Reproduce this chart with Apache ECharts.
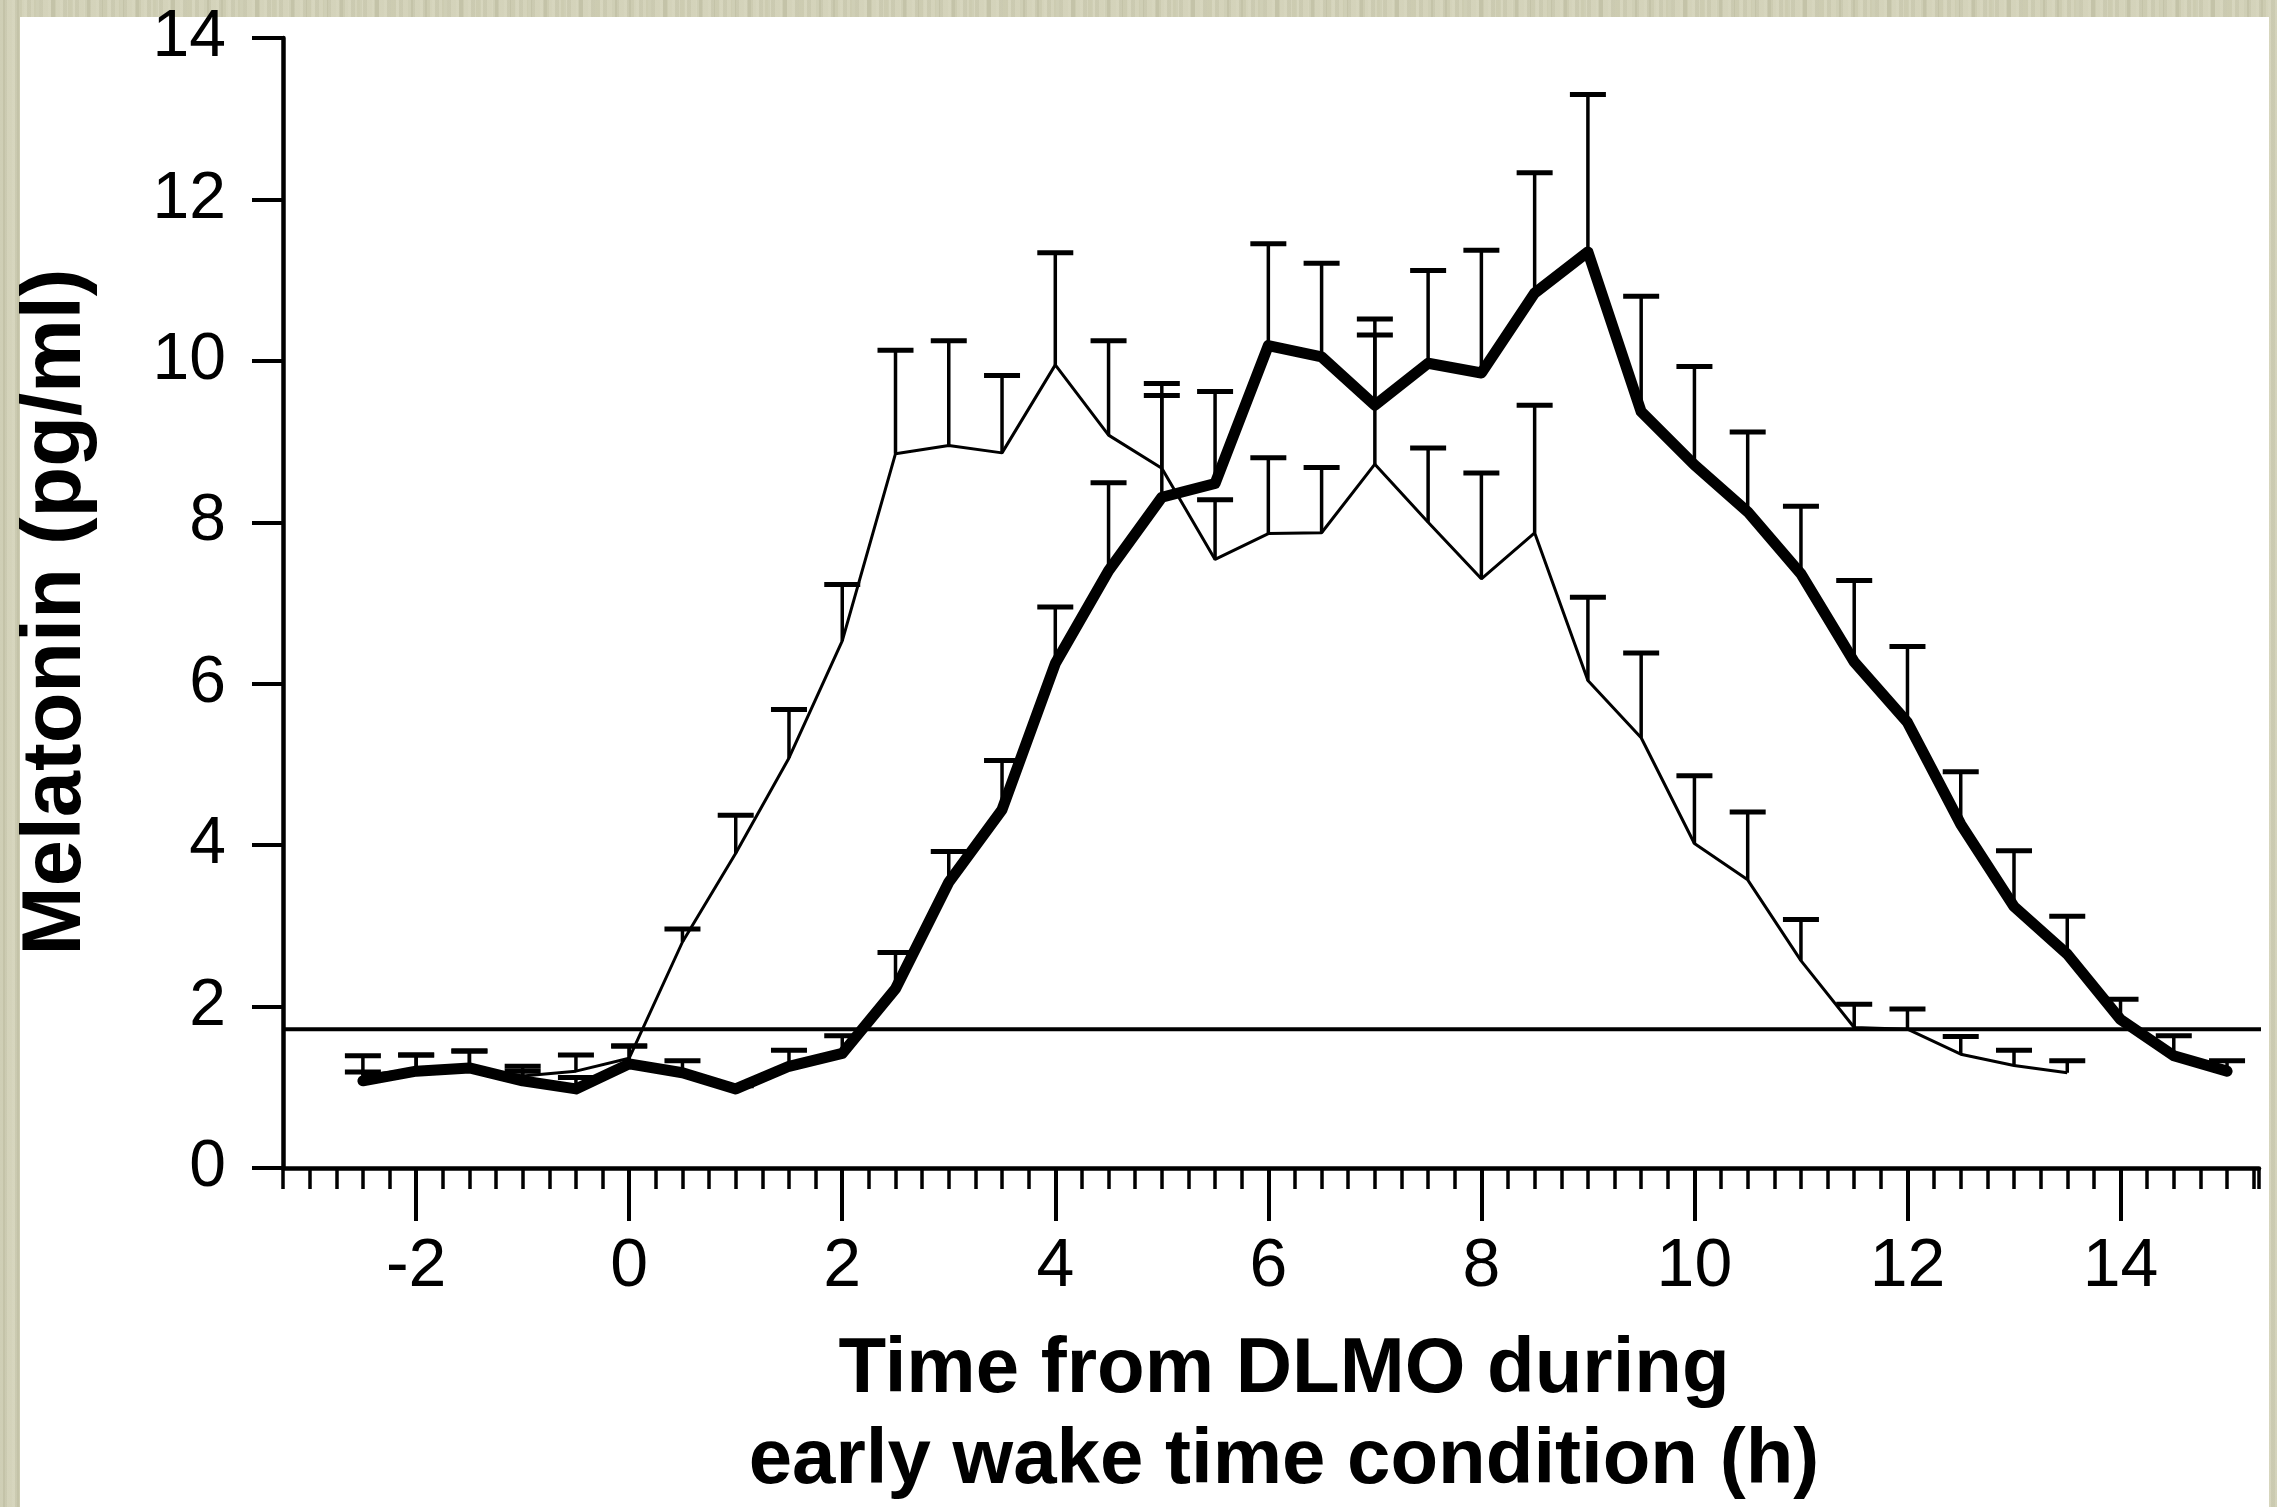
<!DOCTYPE html>
<html>
<head>
<meta charset="utf-8">
<script src="https://cdn.jsdelivr.net/npm/echarts@6/dist/echarts.min.js"></script>
<style>
  html, body { margin: 0; padding: 0; }
  body {
    width: 2277px; height: 1507px; overflow: hidden; position: relative;
    background-color: #cfceb3;
    background-image:
      repeating-linear-gradient(90deg, rgba(255,255,255,0.10) 0px, rgba(255,255,255,0.10) 3px, rgba(0,0,0,0.03) 3px, rgba(0,0,0,0.03) 7px, rgba(255,255,255,0.05) 7px, rgba(255,255,255,0.05) 12px),
      repeating-linear-gradient(90deg, rgba(120,120,80,0.06) 0px, rgba(120,120,80,0.06) 5px, rgba(255,255,240,0.06) 5px, rgba(255,255,240,0.06) 17px);
  }
  #panel { position: absolute; left: 20px; top: 17px; width: 2249px; height: 1490px; background: #ffffff; }
  #chart { position: absolute; left: 0; top: 0; width: 2277px; height: 1507px; }
</style>
</head>
<body>
<div id="panel"></div>
<div id="chart"></div>
<script>
// ---- data ----
const thinTimes = [-2.5,-2,-1.5,-1,-0.5,0,0.5,1,1.5,2,2.5,3,3.5,4,4.5,5,5.5,6,6.5,7,7.5,8,8.5,9,9.5,10,10.5,11,11.5,12,12.5,13,13.5];
const thinMean  = [1.15,1.22,1.25,1.14,1.20,1.36,2.80,3.90,5.08,6.53,8.85,8.95,8.86,9.95,9.08,8.67,7.54,7.86,7.87,8.72,8.00,7.30,7.87,6.04,5.33,4.02,3.57,2.57,1.74,1.72,1.41,1.27,1.18];
const thinUpper = [1.39,1.40,1.45,1.26,1.40,1.51,2.96,4.37,5.68,7.23,10.13,10.25,9.82,11.34,10.25,9.72,8.28,8.80,8.68,10.52,8.92,8.61,9.45,7.07,6.38,4.86,4.41,3.08,2.03,1.97,1.63,1.46,1.33];

const thickTimes = [-2.5,-2,-1.5,-1,-0.5,0,0.5,1,1.5,2,2.5,3,3.5,4,4.5,5,5.5,6,6.5,7,7.5,8,8.5,9,9.5,10,10.5,11,11.5,12,12.5,13,13.5,14,14.5,15];
const thickMean  = [1.08,1.20,1.24,1.08,0.98,1.29,1.18,0.98,1.26,1.42,2.22,3.54,4.44,6.25,7.40,8.31,8.48,10.19,10.05,9.45,9.97,9.85,10.84,11.35,9.37,8.71,8.13,7.36,6.27,5.52,4.26,3.24,2.65,1.84,1.39,1.20];
const thickUpper = [1.19,1.40,1.45,1.20,1.12,1.51,1.33,1.02,1.46,1.64,2.67,3.92,5.05,6.95,8.49,9.57,9.62,11.45,11.21,10.32,11.12,11.37,12.33,13.30,10.80,9.93,9.12,8.20,7.28,6.46,4.91,3.93,3.12,2.09,1.64,1.33];

const thresholdValue = 1.72;
const thresholdSpan = [-3.25, 15.35];

const xMajorTicks = [-2, 0, 2, 4, 6, 8, 10, 12, 14];
const xRange = [-3.25, 15.3];
const xMinorStep = 0.25;
const yRange = [0, 14];
const yStep = 2;

const xTitleLines = ['Time from DLMO during', 'early wake time condition (h)'];
const yTitle = 'Melatonin (pg/ml)';

// ---- chart ----
const FONT = "'Liberation Sans', Arial, Helvetica, sans-serif";
const chart = echarts.init(document.getElementById('chart'), null, { renderer: 'canvas' });

function zip(ts, vs) { return ts.map((t, i) => [t, vs[i]]); }
function zip3(ts, a, b) { return ts.map((t, i) => [t, a[i], b[i]]); }

function errorBarRender(params, api) {
  const t = api.value(0), m = api.value(1), u = api.value(2);
  const p0 = api.coord([t, m]);
  const p1 = api.coord([t, u]);
  const half = 18;
  return {
    type: 'group',
    children: [
      { type: 'line', shape: { x1: p0[0], y1: p0[1], x2: p1[0], y2: p1[1] }, style: { stroke: '#000', lineWidth: 3.5 } },
      { type: 'line', shape: { x1: p1[0] - half, y1: p1[1], x2: p1[0] + half, y2: p1[1] }, style: { stroke: '#000', lineWidth: 5 } }
    ]
  };
}

const option = {
  backgroundColor: 'transparent',
  animation: false,
  grid: { left: 283, right: 18, top: 38, bottom: 339, containLabel: false },
  xAxis: [
    {
      type: 'value', min: xRange[0], max: xRange[1], interval: xMinorStep, position: 'bottom',
      axisLine: { show: true, onZero: false, lineStyle: { color: '#000', width: 4.5 } },
      axisTick: { show: true, length: 21, lineStyle: { color: '#000', width: 3.5 } },
      axisLabel: { show: false },
      splitLine: { show: false }
    },
    {
      type: 'value', min: xRange[0], max: xRange[1], position: 'bottom',
      axisLine: { show: false, onZero: false },
      axisTick: { show: true, customValues: xMajorTicks, length: 53, lineStyle: { color: '#000', width: 4 } },
      axisLabel: { show: true, customValues: xMajorTicks, margin: 65, color: '#000', fontSize: 68, fontFamily: FONT,
                   formatter: v => String(v) },
      splitLine: { show: false }
    }
  ],
  yAxis: {
    type: 'value', min: yRange[0], max: yRange[1], interval: yStep,
    axisLine: { show: true, onZero: false, lineStyle: { color: '#000', width: 4.5 } },
    axisTick: { show: true, length: 31, lineStyle: { color: '#000', width: 4 } },
    axisLabel: { color: '#000', fontSize: 66, fontFamily: FONT, margin: 57 },
    splitLine: { show: false }
  },
  graphic: [
    { type: 'text', x: 1284, y: 1370, style: { text: xTitleLines[0], font: "bold 78px " + FONT, fill: '#000', textAlign: 'center', textVerticalAlign: 'middle' } },
    { type: 'text', x: 1284, y: 1461, style: { text: xTitleLines[1], font: "bold 78px " + FONT, fill: '#000', textAlign: 'center', textVerticalAlign: 'middle' } },
    { type: 'text', x: 57, y: 612, rotation: Math.PI / 2, style: { text: yTitle, font: "bold 83px " + FONT, fill: '#000', textAlign: 'center', textVerticalAlign: 'middle' } }
  ],
  series: [
    {
      name: 'threshold', type: 'line', xAxisIndex: 0, clip: false, silent: true, symbol: 'none',
      data: [[thresholdSpan[0], thresholdValue], [thresholdSpan[1], thresholdValue]],
      lineStyle: { color: '#000', width: 4 }, z: 2
    },
    {
      name: 'thin-err', type: 'custom', xAxisIndex: 0, clip: false, renderItem: errorBarRender,
      data: zip3(thinTimes, thinMean, thinUpper), z: 3
    },
    {
      name: 'thick-err', type: 'custom', xAxisIndex: 0, clip: false, renderItem: errorBarRender,
      data: zip3(thickTimes, thickMean, thickUpper), z: 3
    },
    {
      name: 'thin', type: 'line', xAxisIndex: 0, symbol: 'none', clip: false,
      data: zip(thinTimes, thinMean),
      lineStyle: { color: '#000', width: 3 }, z: 4
    },
    {
      name: 'thick', type: 'line', xAxisIndex: 0, symbol: 'none', clip: false,
      data: zip(thickTimes, thickMean),
      lineStyle: { color: '#000', width: 11, join: 'round', cap: 'round' }, z: 5
    }
  ]
};
chart.setOption(option);
</script>
</body>
</html>
